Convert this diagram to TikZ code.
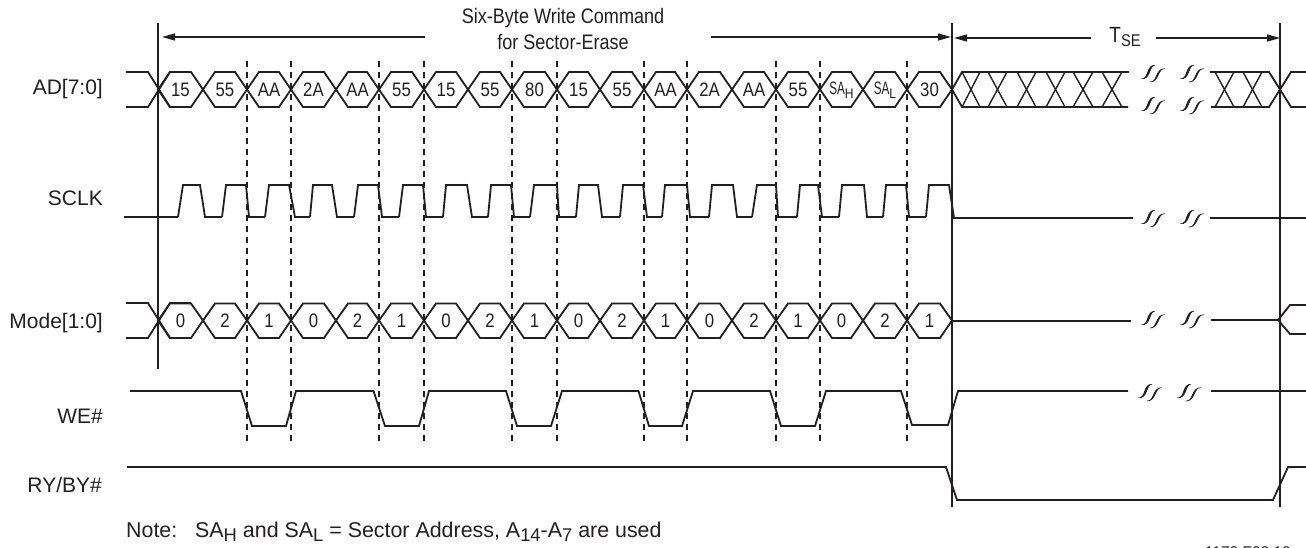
\documentclass[tikz,border=0pt]{standalone}
\usepackage{fontspec}
\setmainfont{Liberation Sans}
\newfontfamily\narrowfont[FakeStretch=0.86]{Liberation Sans}
\newfontfamily\slimfont[FakeStretch=0.65]{Liberation Sans}
\usetikzlibrary{arrows.meta}
\definecolor{ink}{HTML}{231F20}
\newcommand{\lowtext}[2]{\raisebox{-0.2em}{\fontsize{#1}{#1}\selectfont #2}}
\newcommand{\sectorbyte}[1]{{\fontsize{18}{18}\slimfont SA}\lowtext{14}{\narrowfont #1}}

\begin{document}
\begin{tikzpicture}[x=1pt,y=-1pt,color=ink,
	signal/.style={line width=1.8pt,line join=miter},
	cut/.style={line width=1.4pt},
	guide/.style={line width=1.6pt},
	strobe/.style={line width=1.6pt,dash pattern=on 6pt off 5pt},
	span/.style={line width=1.3pt,-{Stealth[length=13pt,width=7pt,inset=0pt]}},
	signame/.style={font=\fontsize{21}{24}\selectfont,anchor=east,inner sep=0pt},
	sigvalue/.style={font=\fontsize{19.5}{22}\narrowfont,inner sep=0pt},
	footnote/.style={font=\fontsize{21.4}{24}\selectfont,anchor=west,inner sep=0pt},
	brk/.pic={
		\filldraw[line width=0.6pt] (-11.7,5.7) .. controls (-4,7) and (-7,-8) .. (1.7,-7.7) .. controls (-4,-8) and (-2,7) .. (-11.7,5.7);
		\filldraw[line width=0.6pt] (-3,9) .. controls (4.5,10) and (2,-4.5) .. (11.7,-4.3) .. controls (4.5,-5) and (6.5,9) .. (-3,9);
	}]
	\useasboundingbox (0,0) rectangle (1306,548);

	\foreach \xs in {247,291,379,424,512,557,644,687,776,820,907}
		\draw[strobe] (\xs,61) -- (\xs,443);

	\coordinate (top1) at (158,23);
	\coordinate (top2) at (952,23);
	\coordinate (top3) at (1280,23);
	\coordinate (bot1) at (158,369);
	\coordinate (bot2) at (952,507);
	\coordinate (bot3) at (1280,507);
	\draw[guide] (top1) -- (bot1);
	\draw[guide] (top2) -- (bot2);
	\draw[guide] (top3) -- (bot3);

	\node[signame] (adname) at (103,89) {AD[7:0]};
	\node[signame] (sclkname) at (103,198) {SCLK};
	\node[signame] (modename) at (103,323) {Mode[1:0]};
	\node[signame] (wename) at (103,416) {WE\#};
	\node[signame] (ryname) at (102,485) {RY/BY\#};

	\node[align=center,inner sep=0pt,font=\fontsize{21}{26}\narrowfont] (title) at (563,29) {Six-Byte Write Command\\for Sector-Erase};
	\node[inner sep=0pt,font=\fontsize{22}{24}\narrowfont] (tse) at (1125,37) {T\lowtext{17}{SE}};

	\coordinate (w1) at (424.5,37);
	\coordinate (w2) at (162,37);
	\coordinate (w3) at (711,37);
	\coordinate (w4) at (951,37);
	\coordinate (t1) at (1091,38);
	\coordinate (t2) at (954,38);
	\coordinate (t3) at (1156,38);
	\coordinate (t4) at (1280,38);
	\draw[span] (w1) -- (w2);
	\draw[span] (w3) -- (w4);
	\draw[span] (t1) -- (t2);
	\draw[span] (t3) -- (t4);

	\draw[signal] (126,72) -- (148,72) -- (170,107) -- (191,107);
	\draw[signal] (126,107) -- (148,107) -- (170,72) -- (191,72);
	\foreach \xa/\xb/\val/\idx in {158/203/15/1,203/247/55/2,247/291/AA/3,291/336/2A/4,336/379/AA/5,379/424/55/6,424/468/15/7,468/512/55/8,512/557/80/9,557/600/15/10,600/644/55/11,644/687/AA/12,687/732/2A/13,732/776/AA/14,776/820/55/15,820/863/\sectorbyte{H}/16,863/907/\sectorbyte{L}/17,907/952/30/18} {
		\draw[signal] (\xa,89.5) -- (\xa+12,72) -- (\xb-12,72) -- (\xb,89.5) -- (\xb-12,107) -- (\xa+12,107) -- cycle;
		\node[sigvalue] (adbyte\idx) at ({(\xa+\xb)/2},90) {\val};
	}

	\draw[signal] (952,89.5) -- (962,72) -- (1129,72);
	\draw[signal] (952,89.5) -- (962,107) -- (1128,107);
	\foreach \xa/\xb in {962/980,988/1007,1017/1036,1046/1065,1073/1093,1102/1122} {
		\draw[cut] (\xa,72) -- (\xb,107);
		\draw[cut] (\xa,107) -- (\xb,72);
	}
	\draw[signal] (1210,72) -- (1269,72) -- (1291,107) -- (1306,107);
	\draw[signal] (1211,107) -- (1269,107) -- (1291,72) -- (1306,72);
	\foreach \xa/\xb in {1215/1234,1243/1262} {
		\draw[cut] (\xa,72) -- (\xb,107);
		\draw[cut] (\xa,107) -- (\xb,72);
	}

	\draw[signal] (124,217) -- (178,217);
	\foreach \ra/\rb/\fa/\fb/\nx in {178/183/200/205/222,222/226/246/249/265,265/269/289/295/310,310/313/332/337/354,354/358/378/382/399,399/403/423/426/443,443/446/467/472/488,488/491/511/514/530,530/534/557/559/576,576/579/598/602/620,620/623/643/647/662,662/665/687/690/709,709/712/733/737/752,752/757/776/778/797,797/800/818/822/839,839/842/864/867/883,883/886/906/909/926}
		\draw[signal] (\ra,217) -- (\rb,185) -- (\fa,185) -- (\fb,217) -- (\nx,217);
	\draw[signal] (926,217) -- (929,185) -- (949,185) -- (954,218) -- (1133,218);
	\draw[signal] (1210,218) -- (1306,218);

	\draw[signal] (126,303) -- (148,303) -- (170,338) -- (191,338);
	\draw[signal] (126,338) -- (148,338) -- (170,303) -- (191,303);
	\foreach \xa/\xb/\val/\idx in {158/203/0/1,203/247/2/2,247/291/1/3,291/336/0/4,336/379/2/5,379/424/1/6,424/468/0/7,468/512/2/8,512/557/1/9,557/600/0/10,600/644/2/11,644/687/1/12,687/732/0/13,732/776/2/14,776/820/1/15,820/863/0/16,863/907/2/17,907/952/1/18} {
		\draw[signal] (\xa,320.5) -- (\xa+12,303.5) -- (\xb-12,303.5) -- (\xb,320.5) -- (\xb-12,338) -- (\xa+12,338) -- cycle;
		\node[sigvalue] (modeval\idx) at ({(\xa+\xb)/2},321) {\val};
	}
	\draw[signal] (952,321) -- (1131,321);
	\draw[signal] (1211,320) -- (1278,320) -- (1290,305) -- (1306,305);
	\draw[signal] (1278,320) -- (1290,334) -- (1306,334);

	\draw[signal] (130,391) -- (241,391) -- (252,426) -- (286,426) -- (296,391) -- (373.5,391) -- (385,426) -- (419,426) -- (429,391) -- (506,391) -- (517,426) -- (551,426) -- (562,391) -- (638.5,391) -- (649,426) -- (682,426) -- (693,391) -- (770,391) -- (781,426) -- (815,426) -- (826,391) -- (901,391) -- (912,425) -- (948,425) -- (958,391) -- (1128,391);
	\draw[signal] (1211,391) -- (1306,391);

	\draw[signal] (127,467) -- (946,467) -- (957,500) -- (1273,500) -- (1288,467) -- (1306,467);

	\foreach \xb/\yb in {1153/73,1192/73,1153/105,1192/105,1153/218,1192/218,1153/319,1192/319,1150/392,1189/392}
		\pic at (\xb,\yb) {brk};

	\node[footnote] (notetext) at (126,532) {Note:\ \ \ SA\lowtext{18.4}{H} and SA\lowtext{18.4}{L} = Sector Address, A\lowtext{18.4}{14}-A\lowtext{18.4}{7} are used};
	\node[inner sep=0pt,anchor=base east,font=\fontsize{15.5}{17}\selectfont] (figcode) at (1291,557) {1170 F03.10};
\end{tikzpicture}
\end{document}
